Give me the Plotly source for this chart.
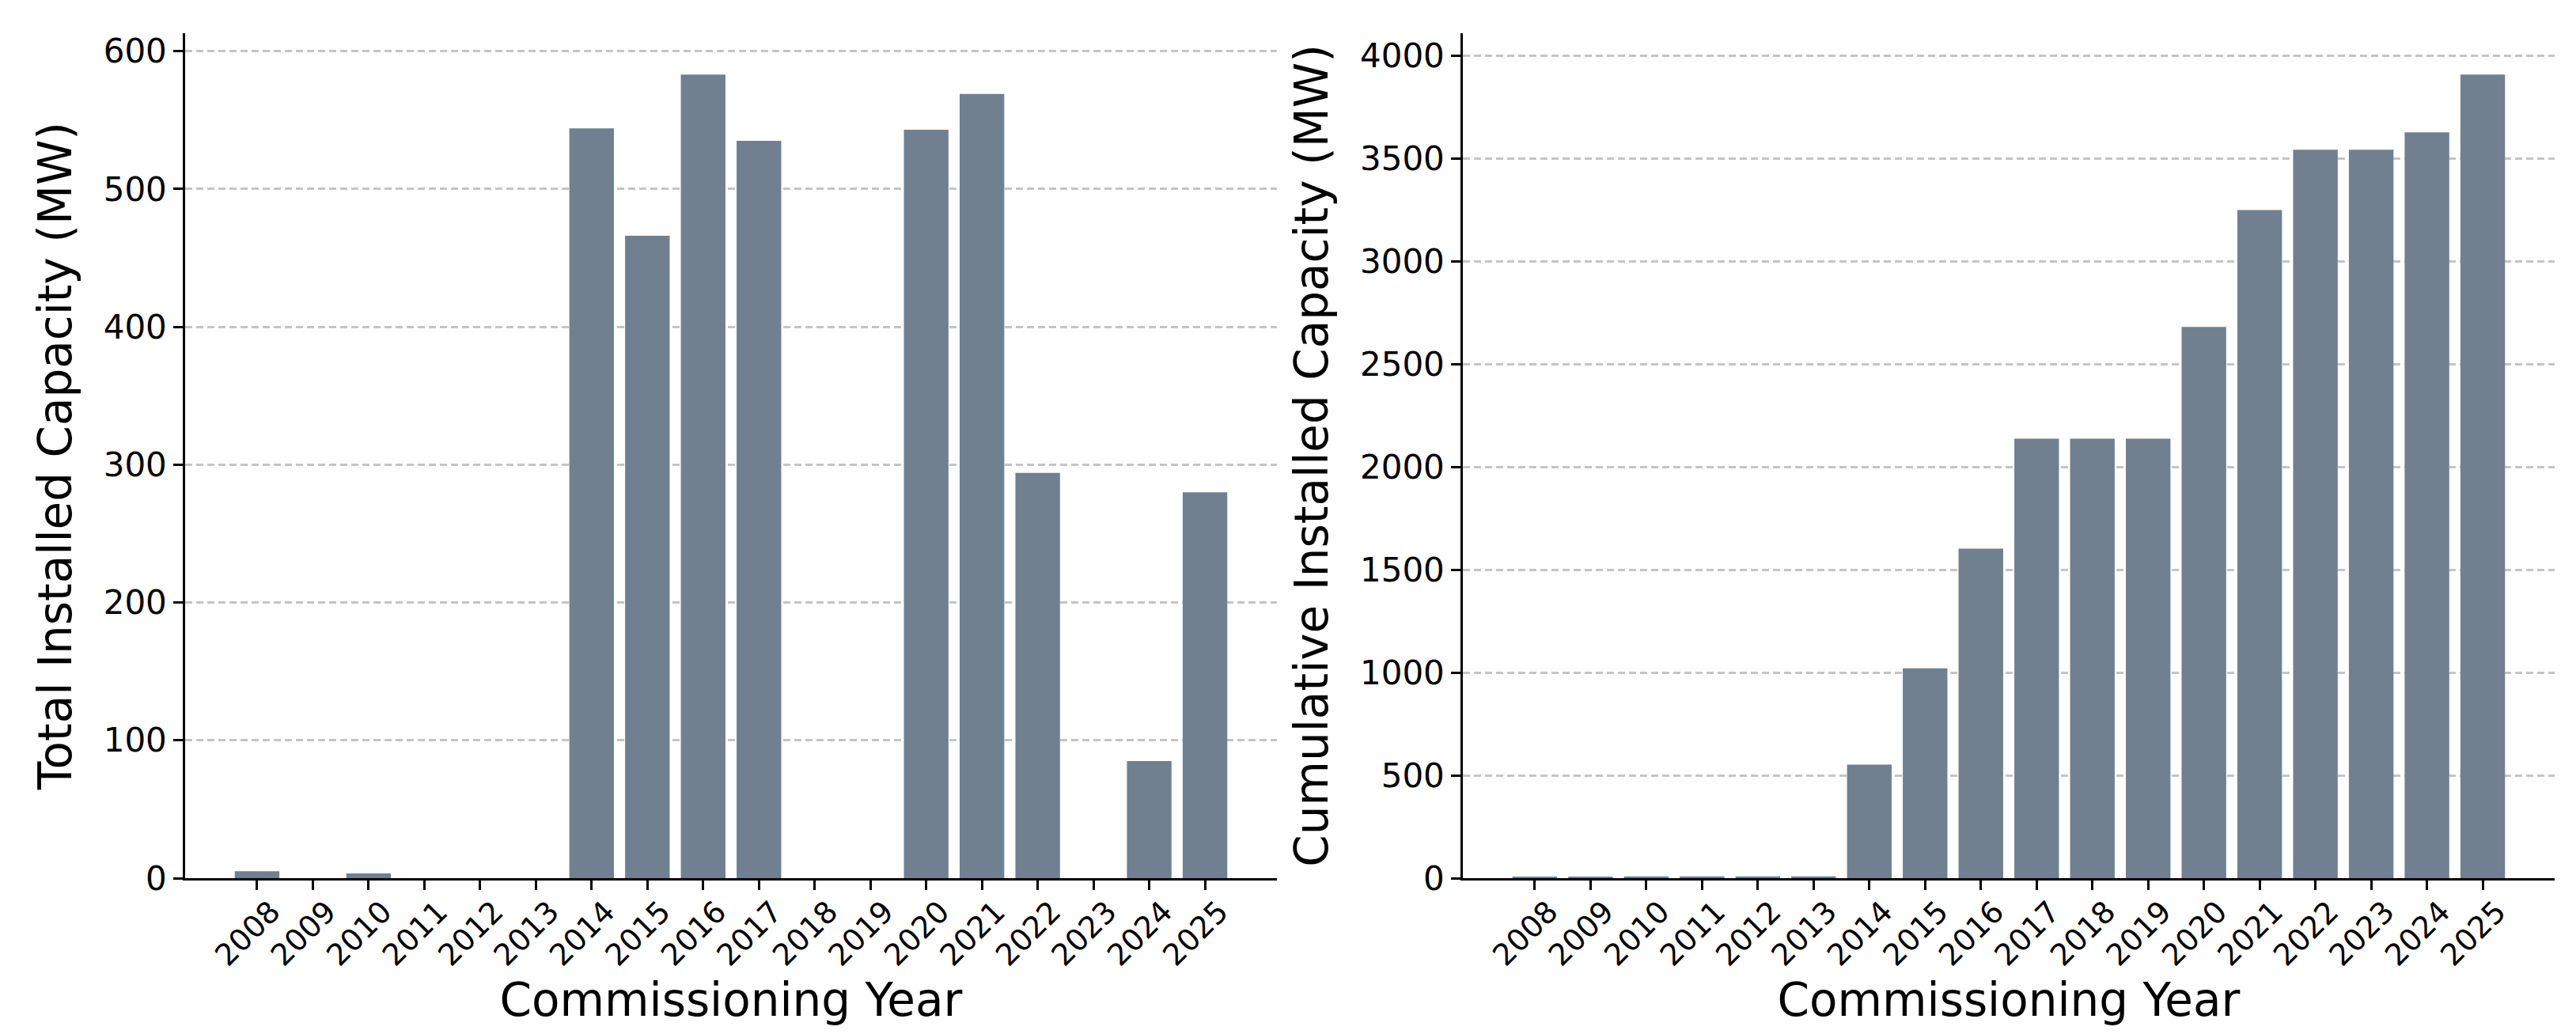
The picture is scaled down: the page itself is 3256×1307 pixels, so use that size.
import plotly.graph_objects as go

years = [str(y) for y in range(2008, 2026)]
annual_mw = [5, 0, 3.5, 0, 0, 0, 544, 466, 583, 535, 0, 0, 543, 569, 294, 0, 85, 280]
cumulative_mw = [5, 5, 8.5, 8.5, 8.5, 8.5, 552, 1020, 1602, 2137, 2137, 2137,
                 2680, 3248, 3542, 3542, 3626, 3907]
left_ticks = [0, 100, 200, 300, 400, 500, 600]
right_ticks = [0, 500, 1000, 1500, 2000, 2500, 3000, 3500, 4000]

BAR = "#708090"
FONT = "DejaVu Sans"

fig = go.Figure()
fig.add_trace(go.Bar(x=years, y=annual_mw, marker_color=BAR, marker_line_width=0,
                     xaxis="x", yaxis="y", showlegend=False))
fig.add_trace(go.Bar(x=years, y=cumulative_mw, marker_color=BAR, marker_line_width=0,
                     xaxis="x2", yaxis="y2", showlegend=False))

W, H = 3256, 1307
y_dom = [1 - 1102 / H, 1 - 34 / H]

xcommon = dict(
    type="category", range=[-1.29, 18.29], showgrid=False, zeroline=False,
    showline=True, linecolor="black", linewidth=2.5,
    ticks="outside", ticklen=12, tickwidth=2.5, tickcolor="black",
    tickangle=-45, tickfont=dict(family=FONT, size=38, color="black"),
    ticklabelshift=18, ticklabelstandoff=-10,
    title=dict(text="Commissioning Year", font=dict(family=FONT, size=58, color="black"),
               standoff=4),
    automargin=False,
)
ycommon = dict(
    showgrid=True, gridcolor="#c4c4c4", gridwidth=2.5, griddash="9px,5px",
    zeroline=False, showline=True, linecolor="black", linewidth=2.5,
    ticks="outside", ticklen=12, tickwidth=2.5, tickcolor="black",
    tickfont=dict(family=FONT, size=42, color="black"),
    automargin=False, domain=y_dom,
)

fig.update_layout(
    width=W, height=H,
    margin=dict(l=0, r=0, t=0, b=0),
    paper_bgcolor="white", plot_bgcolor="white",
    bargap=0.2,
    font=dict(family=FONT, color="black"),
    xaxis=dict(**xcommon, domain=[226 / W, 1606 / W], anchor="y"),
    xaxis2=dict(**xcommon, domain=[1841 / W, 3221 / W], anchor="y2"),
    yaxis=dict(**ycommon, range=[0, 613], tickvals=left_ticks, anchor="x",
               title=dict(text="Total Installed Capacity (MW)",
                          font=dict(family=FONT, size=58, color="black"), standoff=22)),
    yaxis2=dict(**ycommon, range=[0, 4108], tickvals=right_ticks, anchor="x2",
                title=dict(text="Cumulative Installed Capacity (MW)",
                           font=dict(family=FONT, size=58, color="black"), standoff=22)),
)

fig.write_html("out.html")
